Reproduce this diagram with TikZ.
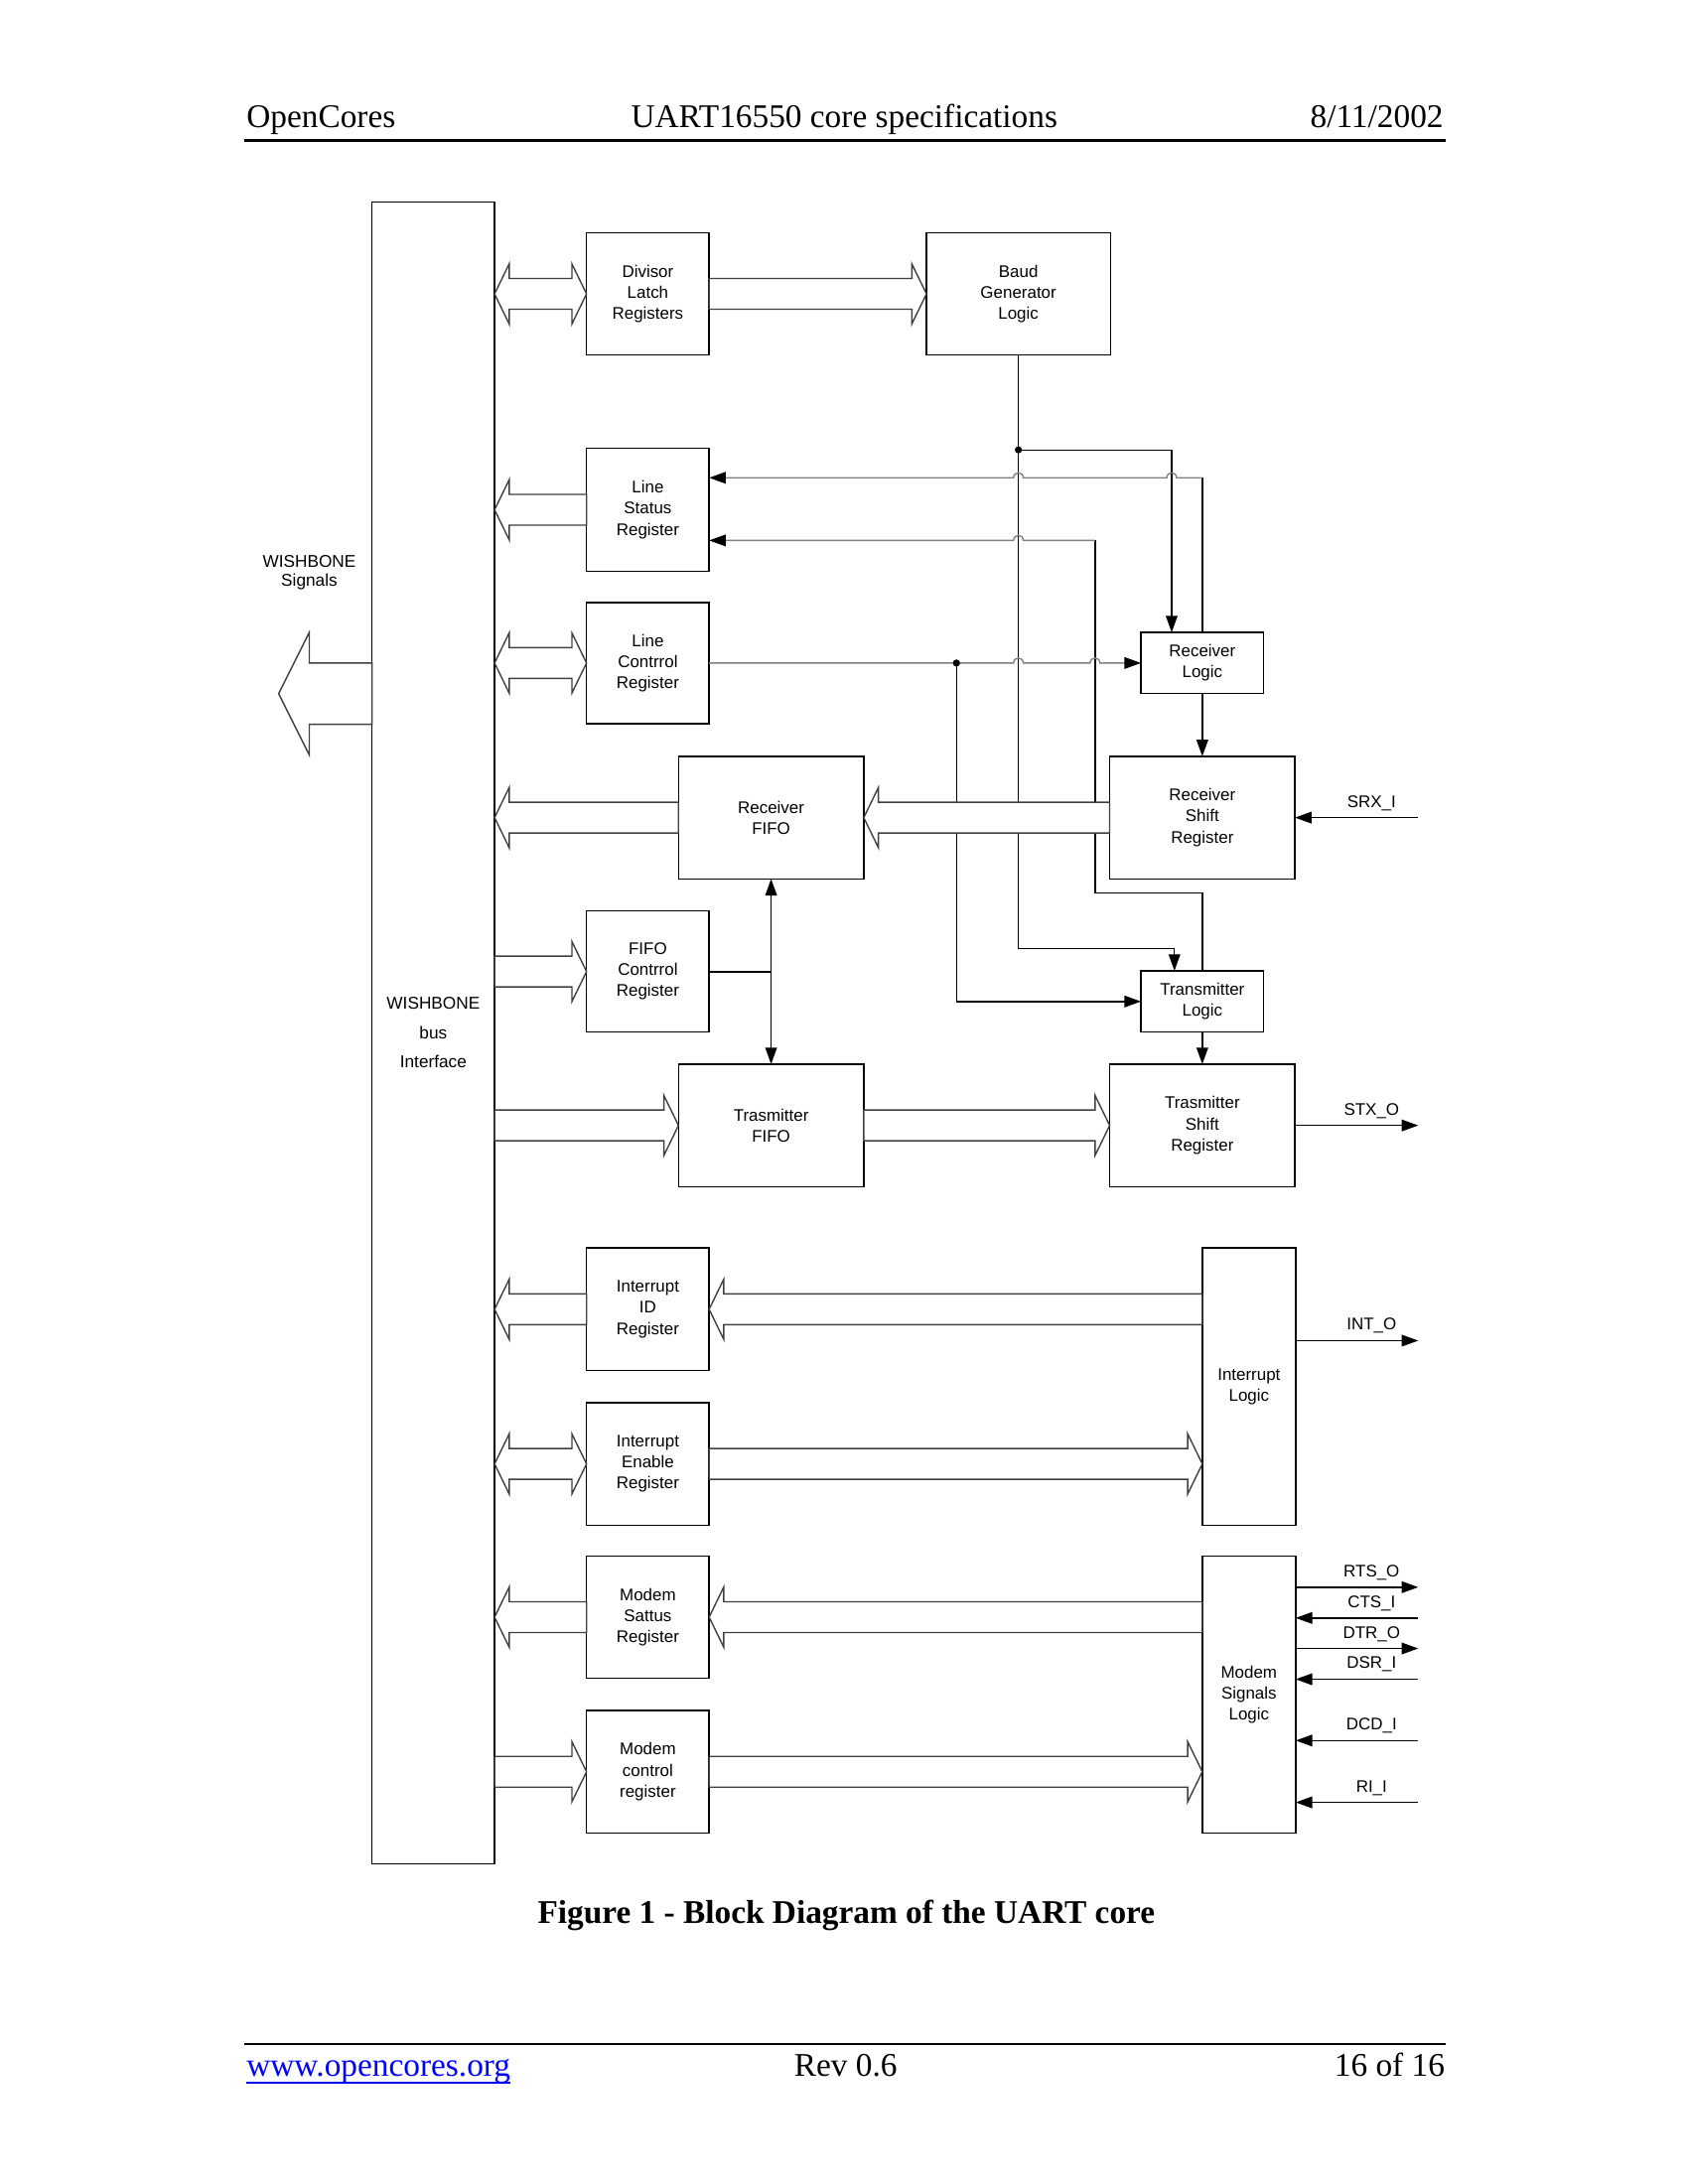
\documentclass[tikz,border=0pt]{standalone}
\usepackage{fontspec}
\setmainfont{Liberation Serif}
\setsansfont{Liberation Sans}
\usetikzlibrary{arrows.meta,calc}
\def\fsw{5.58pt}
\def\fhw{10.9pt}
\def\fhl{5.3pt}
\newcommand\fatR[2]{\path[fat] let \p1=#1, \p2=#2 in
  (\x1,{\y1+\fsw}) -- ({\x2-\fhl},{\y1+\fsw}) -- ({\x2-\fhl},{\y1+\fhw}) -- (\x2,\y1)
  -- ({\x2-\fhl},{\y1-\fhw}) -- ({\x2-\fhl},{\y1-\fsw}) -- (\x1,{\y1-\fsw}) -- cycle;}
\newcommand\fatL[2]{\path[fat] let \p1=#1, \p2=#2 in
  (\x1,\y1) -- ({\x1+\fhl},{\y1+\fhw}) -- ({\x1+\fhl},{\y1+\fsw}) -- (\x2,{\y1+\fsw})
  -- (\x2,{\y1-\fsw}) -- ({\x1+\fhl},{\y1-\fsw}) -- ({\x1+\fhl},{\y1-\fhw}) -- cycle;}
\newcommand\fatB[2]{\path[fat] let \p1=#1, \p2=#2 in
  (\x1,\y1) -- ({\x1+\fhl},{\y1+\fhw}) -- ({\x1+\fhl},{\y1+\fsw}) -- ({\x2-\fhl},{\y1+\fsw})
  -- ({\x2-\fhl},{\y1+\fhw}) -- (\x2,\y1) -- ({\x2-\fhl},{\y1-\fhw}) -- ({\x2-\fhl},{\y1-\fsw})
  -- ({\x1+\fhl},{\y1-\fsw}) -- ({\x1+\fhl},{\y1-\fhw}) -- cycle;}
\begin{document}
\begin{tikzpicture}[x=0.505pt,y=-0.505pt,
  box/.style={draw, line width=0.5pt, inner sep=0pt, outer sep=0pt, align=center,
    font=\sffamily\fontsize{6.1}{7.6}\selectfont},
  sz/.style 2 args={minimum width={#1*0.505pt}, minimum height={#2*0.505pt}},
  sig/.style={draw=black, line width=0.5pt},
  gsig/.style={draw=black!50, line width=0.5pt},
  gtip/.style={-{Triangle[length=6pt,width=4.2pt,color=black]}},
  >={Triangle[length=6pt,width=4.2pt]},
  fat/.style={draw=black!75, fill=white, line width=0.5pt},
  lbl/.style={inner sep=0pt, outer sep=0pt, anchor=base, font=\sffamily\fontsize{6.1}{7.6}\selectfont},
  hdr/.style={inner sep=0pt, outer sep=0pt, font=\rmfamily\fontsize{12}{14}\selectfont}]
\fill[white] (0,0) rectangle (1212,1568);
\useasboundingbox (0,0) rectangle (1212,1568);

% header / footer
\node[hdr, anchor=base west] (hl) at (177,91.5) {OpenCores};
\node[hdr, anchor=base] (hc) at (606,91.5) {UART16550 core specifications};
\node[hdr, anchor=base east] (hr) at (1036,91.5) {8/11/2002};
\draw[line width=1pt] (175,101) -- (1038,101);
\node[hdr, anchor=base, font=\rmfamily\bfseries\fontsize{12}{14}\selectfont] (cap) at (607.5,1381) {Figure 1 - Block Diagram of the UART core};
\draw[line width=0.6pt] (175,1467.4) -- (1038,1467.4);
\node[hdr, anchor=base west, text={rgb,255:red,0;green,0;blue,255}] (fl) at (177,1491) {www.opencores.org};
\draw[draw={rgb,255:red,0;green,0;blue,255}, line width=0.6pt] ($(fl.base west)+(0,4.5)$) -- ($(fl.base east)+(0,4.5)$);
\node[hdr, anchor=base] (fc) at (607,1491) {Rev 0.6};
\node[hdr, anchor=base east] (fr) at (1037,1491) {16 of 16};

% boxes
\node[box,sz={88}{1193},font=\sffamily\fontsize{6.2}{10.6}\selectfont] (wb) at (311,741.5) {WISHBONE\\bus\\Interface};
\node[box,sz={88}{88}] (dl) at (465,211) {Divisor\\Latch\\Registers};
\node[box,sz={132}{88}] (bg) at (731,211) {Baud\\Generator\\Logic};
\node[box,sz={88}{88}] (lsr) at (465,366) {Line\\Status\\Register};
\node[box,sz={88}{87}] (lcr) at (465,476) {Line\\Contrrol\\Register};
\node[box,sz={133}{88}] (rxf) at (553.5,587) {Receiver\\FIFO};
\node[box,sz={88}{87}] (fcr) at (465,697.5) {FIFO\\Contrrol\\Register};
\node[box,sz={133}{88}] (txf) at (553.5,808) {Trasmitter\\FIFO};
\node[box,sz={88}{44}] (rl) at (863,476) {Receiver\\Logic};
\node[box,sz={133}{88}] (rsr) at (863,587) {Receiver\\Shift\\Register};
\node[box,sz={88}{44}] (tl) at (863,719) {Transmitter\\Logic};
\node[box,sz={133}{88}] (tsr) at (863,808) {Trasmitter\\Shift\\Register};
\node[box,sz={88}{88}] (iir) at (465,940) {Interrupt\\ID\\Register};
\node[box,sz={88}{88}] (ier) at (465,1051) {Interrupt\\Enable\\Register};
\node[box,sz={67}{199}] (il) at (896.5,995.5) {Interrupt\\Logic};
\node[box,sz={88}{88}] (msr) at (465,1161) {Modem\\Sattus\\Register};
\node[box,sz={88}{88}] (mcr) at (465,1272) {Modem\\control\\register};
\node[box,sz={67}{199}] (msl) at (896.5,1216.5) {Modem\\Signals\\Logic};

% control lines
\coordinate (j1) at (731,323);
\coordinate (b1) at (731,681);
\draw[sig,->] (bg.south) -- (b1) -| ($(tl.north)+(-20,0)$);
\draw[sig,->] (j1) -| ($(rl.north)+(-22,0)$);
\coordinate (b2) at (863,343);
\draw[sig] (rl.north) -- (b2);
\draw[gsig,gtip] (b2) -- (844.5,343) .. controls (844.5,338.3) and (837.5,338.3) .. (837.5,343)
  -- (734.5,343) .. controls (734.5,338.3) and (727.5,338.3) .. (727.5,343) -- (lsr.east |- b2);
\coordinate (b3) at (786,641);
\coordinate (b4) at (786,388);
\draw[sig] (tl.north) |- (b3) -- (b4);
\draw[gsig,gtip] (b4) -- (734.5,388) .. controls (734.5,383.3) and (727.5,383.3) .. (727.5,388) -- (lsr.east |- b4);
\coordinate (j2) at (686.5,476);
\draw[gsig,gtip] (lcr.east |- j2) -- (727.5,476) .. controls (727.5,471.3) and (734.5,471.3) .. (734.5,476)
  -- (782.5,476) .. controls (782.5,471.3) and (789.5,471.3) .. (789.5,476) -- (rl.west);
\draw[sig,->] (j2) |- (tl.west);
\fill (j1) circle[radius=1.3pt];
\fill (j2) circle[radius=1.3pt];
\draw[sig,line width=0.7pt] (fcr.east) -- (fcr.east -| rxf.south);
\draw[sig,<->] (rxf.south) -- (txf.north);
\draw[sig,->] (rl.south) -- (rsr.north);
\draw[sig,->] (tl.south) -- (tsr.north);

% external signals
\coordinate (srx) at (1018,587);
\coordinate (stx) at (1018,808);
\coordinate (into) at (1018,962.5);
\coordinate (rts) at (1018,1139.5);
\coordinate (cts) at (1018,1161.6);
\coordinate (dtr) at (1018,1183.5);
\coordinate (dsr) at (1018,1205.6);
\coordinate (dcd) at (1018,1249.6);
\coordinate (ri) at (1018,1294);
\draw[sig,->] (srx) -- (rsr.east);
\draw[sig,->] (tsr.east) -- (stx);
\draw[sig,->] (il.east |- into) -- (into);
\draw[sig,->] (msl.east |- rts) -- (rts);
\draw[sig,->] (cts) -- (msl.east |- cts);
\draw[sig,->] (msl.east |- dtr) -- (dtr);
\draw[sig,->] (dsr) -- (msl.east |- dsr);
\draw[sig,->] (dcd) -- (msl.east |- dcd);
\draw[sig,->] (ri) -- (msl.east |- ri);
\node[lbl] (lsrx) at (984.5,579.5) {SRX\_I};
\node[lbl] (lstx) at (984.5,800.5) {STX\_O};
\node[lbl] (lint) at (984.5,955) {INT\_O};
\node[lbl] (lrts) at (984.5,1132) {RTS\_O};
\node[lbl] (lcts) at (984.5,1154) {CTS\_I};
\node[lbl] (ldtr) at (984.5,1176) {DTR\_O};
\node[lbl] (ldsr) at (984.5,1198) {DSR\_I};
\node[lbl] (ldcd) at (984.5,1242) {DCD\_I};
\node[lbl] (lri) at (984.5,1286.5) {RI\_I};

% fat bus arrows
\fatB{(wb.east |- dl.center)}{(dl.west)}
\fatR{(dl.east)}{(bg.west)}
\fatL{(wb.east |- lsr.center)}{(lsr.west)}
\fatB{(wb.east |- lcr.center)}{(lcr.west)}
\fatL{(wb.east |- rxf.center)}{(rxf.west)}
\fatL{(rxf.east)}{(rsr.west)}
\fatR{(wb.east |- fcr.center)}{(fcr.west)}
\fatR{(wb.east |- txf.center)}{(txf.west)}
\fatR{(txf.east)}{(tsr.west)}
\fatL{(wb.east |- iir.center)}{(iir.west)}
\fatL{(iir.east)}{(il.west |- iir.center)}
\fatB{(wb.east |- ier.center)}{(ier.west)}
\fatR{(ier.east)}{(il.west |- ier.center)}
\fatL{(wb.east |- msr.center)}{(msr.west)}
\fatL{(msr.east)}{(msl.west |- msr.center)}
\fatR{(wb.east |- mcr.center)}{(mcr.west)}
\fatR{(mcr.east)}{(msl.west |- mcr.center)}

% WISHBONE signals arrow
\coordinate (wbs) at (200,498);
\path[fat] let \p1=(wbs), \p2=(wb.west |- wbs) in
  (\x1,\y1) -- ({\x1+11.1pt},{\y1+22.2pt}) -- ({\x1+11.1pt},{\y1+11.1pt}) -- (\x2,{\y1+11.1pt})
  -- (\x2,{\y1-11.1pt}) -- ({\x1+11.1pt},{\y1-11.1pt}) -- ({\x1+11.1pt},{\y1-22.2pt}) -- cycle;
\node[lbl, anchor=center, align=center, font=\sffamily\fontsize{6.2}{7.1}\selectfont] (wbsig) at (222,411) {WISHBONE\\Signals};
\end{tikzpicture}
\end{document}
